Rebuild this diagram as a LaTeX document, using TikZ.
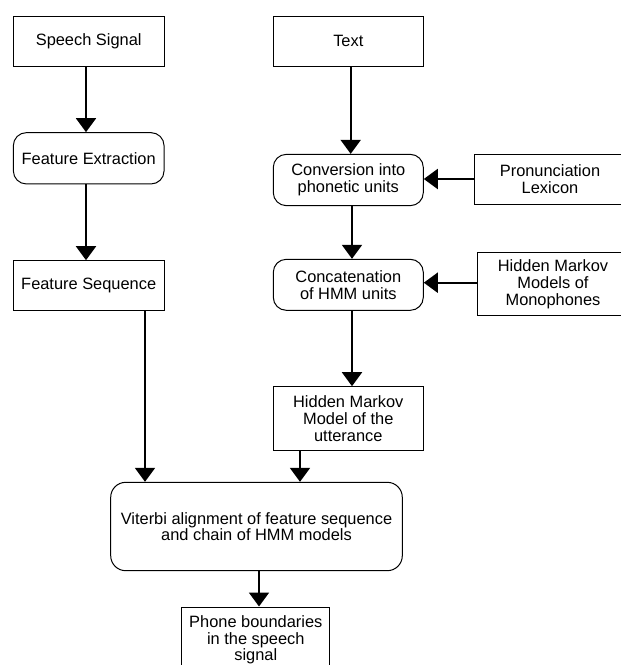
\documentclass[tikz,border=0pt]{standalone}
\usepackage{fontspec}
\setmainfont{Liberation Sans}
\usetikzlibrary{arrows.meta}
\begin{document}
\begin{tikzpicture}[x=1pt,y=-1pt,
  box/.style={draw=black,line width=1pt,inner sep=0pt,align=center,
    font=\fontsize{16.4}{16.7}\selectfont},
  rbox/.style={box,rounded corners=13pt},
  arr/.style={line width=2pt,-{Triangle[width=20pt,length=14pt]}}]
\clip (0,0) rectangle (621,665);
\fill[white] (0,0) rectangle (621,665);
% nodes
\node[box,minimum width=150.7pt,minimum height=50pt] (ss) at (88.7,41) {Speech Signal};
\node[box,minimum width=150pt,minimum height=50pt] (tx) at (348.3,41) {Text};
\node[rbox,minimum width=150.7pt,minimum height=51.3pt] (fe) at (88.7,158.3) {Feature Extraction};
\node[rbox,minimum width=150pt,minimum height=51.3pt] (cv) at (348.3,180) {Conversion into\\phonetic units};
\node[box,minimum width=152pt,minimum height=50pt] (lx) at (550,179.3) {Pronunciation\\Lexicon};
\node[rbox,minimum width=150pt,minimum height=51pt] (ct) at (348.3,284.8) {Concatenation\\of HMM units};
\node[box,minimum width=150.5pt,minimum height=63.3pt] (mo) at (553,284.3) {Hidden Markov\\Models of\\Monophones};
\node[box,minimum width=150.7pt,minimum height=49.6pt] (fs) at (88.7,285.5) {Feature Sequence};
\node[box,minimum width=150pt,minimum height=63.6pt] (ut) at (348.3,418.5) {Hidden Markov\\Model of the\\utterance};
\node[rbox,rounded corners=15pt,minimum width=291.6pt,minimum height=88.4pt] (vi) at (256.5,526.5) {Viterbi alignment of feature sequence\\and chain of HMM models};
\node[box,minimum width=148.3pt,minimum height=66pt] (ph) at (255.8,640) {Phone boundaries\\in the speech\\signal};
% connectors
\draw[arr] (ss.south -| 86,0) -- (fe.north -| 86,0);
\draw[arr] (fe.south -| 86,0) -- (fs.north -| 86,0);
\draw[arr] (tx.south -| 350.7,0) -- (cv.north -| 350.7,0);
\draw[arr] (lx.west |- 0,179) -- (cv.east |- 0,179);
\draw[arr] (cv.south -| 352,0) -- (ct.north -| 352,0);
\draw[arr] (mo.west |- 0,282.7) -- (ct.east |- 0,282.7);
\draw[arr] (ct.south -| 352,0) -- (ut.north -| 352,0);
\draw[arr] (fs.south -| 145,0) -- (vi.north -| 145,0);
\draw[arr] (ut.south -| 300,0) -- (vi.north -| 300,0);
\draw[arr] (vi.south -| 259,0) -- (ph.north -| 259,0);
\end{tikzpicture}
\end{document}
